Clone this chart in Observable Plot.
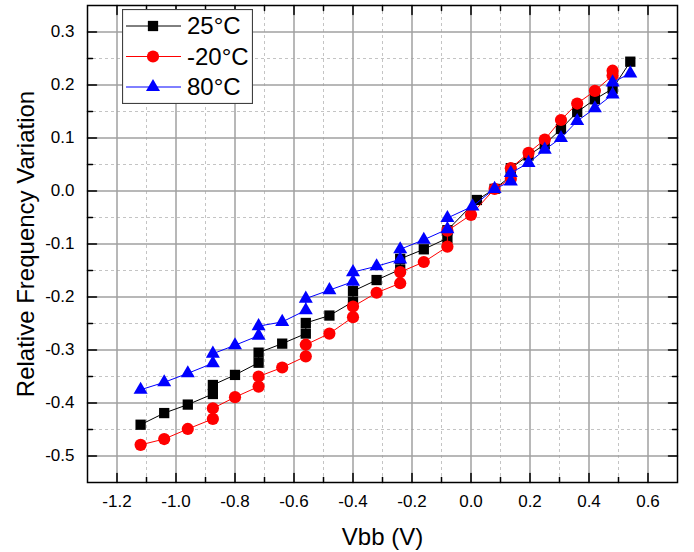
<!DOCTYPE html>
<html><head><meta charset="utf-8">
<script src="https://cdn.jsdelivr.net/npm/d3@7"></script>
<script src="https://cdn.jsdelivr.net/npm/@observablehq/plot@0.6"></script>
<style>
html,body{margin:0;padding:0;background:#fff;}
#chart{position:relative;width:694px;height:552px;font-family:"Liberation Sans",Arial,sans-serif;}
#legend{position:absolute;left:122px;top:9px;}
</style></head><body>
<div id="chart"></div>
<script>
// ---- axis ticks ----
const xTicks = [-1.2,-1.0,-0.8,-0.6,-0.4,-0.2,0.0,0.2,0.4,0.6];
const xMinor = [-1.1,-0.9,-0.7,-0.5,-0.3,-0.1,0.1,0.3,0.5];
const yTicks = [-0.5,-0.4,-0.3,-0.2,-0.1,0.0,0.1,0.2,0.3];
const yMinor = [-0.45,-0.35,-0.25,-0.15,-0.05,0.05,0.15,0.25];

// ---- series ----
const seriesNames = ["25°C","-20°C","80°C"];
const seriesColors = ["#000000","#ff0000","#0000ff"];
const seriesSymbols = ["square","circle","triangle"];

const vbb25 = [-1.12,-1.04,-0.96,-0.875,-0.875,-0.80,-0.72,-0.72,-0.64,-0.56,-0.56,-0.48,-0.40,-0.40,-0.32,-0.24,-0.24,-0.16,-0.08,-0.08,0.02,0.08,0.135,0.135,0.195,0.25,0.305,0.36,0.42,0.48,0.54];
const rfv25 = [-0.441,-0.419,-0.403,-0.383,-0.366,-0.347,-0.324,-0.305,-0.288,-0.269,-0.249,-0.235,-0.209,-0.189,-0.168,-0.148,-0.128,-0.110,-0.089,-0.074,-0.017,0.004,0.028,0.043,0.067,0.088,0.117,0.149,0.173,0.193,0.244];

const vbbM20 = [-1.12,-1.04,-0.96,-0.875,-0.875,-0.80,-0.72,-0.72,-0.64,-0.56,-0.56,-0.48,-0.40,-0.40,-0.32,-0.24,-0.24,-0.16,-0.08,-0.08,0.0,0.08,0.135,0.135,0.195,0.25,0.305,0.36,0.42,0.48,0.48];
const rfvM20 = [-0.479,-0.468,-0.449,-0.430,-0.410,-0.389,-0.369,-0.350,-0.333,-0.312,-0.290,-0.269,-0.238,-0.218,-0.192,-0.174,-0.153,-0.134,-0.105,-0.075,-0.045,0.004,0.023,0.043,0.072,0.097,0.134,0.165,0.189,0.218,0.227];

const vbb80 = [-1.12,-1.04,-0.96,-0.875,-0.875,-0.80,-0.72,-0.72,-0.64,-0.56,-0.56,-0.48,-0.40,-0.40,-0.32,-0.24,-0.24,-0.16,-0.08,-0.08,0.005,0.08,0.135,0.135,0.195,0.25,0.305,0.36,0.42,0.48,0.48,0.54];
const rfv80 = [-0.375,-0.361,-0.344,-0.325,-0.307,-0.291,-0.273,-0.255,-0.247,-0.225,-0.203,-0.187,-0.171,-0.153,-0.142,-0.129,-0.110,-0.092,-0.072,-0.051,-0.029,0.004,0.018,0.034,0.053,0.078,0.100,0.132,0.156,0.182,0.205,0.222];

const xs = [vbb25, vbbM20, vbb80];
const ys = [rfv25, rfvM20, rfv80];
const symR = [5.8, 6.1, 5.2];

const series = seriesNames.map((name, k) =>
  xs[k].map((x, i) => ({series: name, x, y: ys[k][i]})));

const fmt = d => d.toFixed(1);
const tickShape = {draw(ctx, l) { ctx.moveTo(0, 0); ctx.lineTo(0, -l); }};

const tickMarks = (vals, chan, anchor, rot, len) =>
  Plot.vector(vals, {[chan]: d => d, frameAnchor: anchor, rotate: rot, length: len,
    anchor: "start", shape: tickShape, stroke: "#000", strokeWidth: 1.5});

const marks = [
  Plot.ruleX(xMinor, {x: d => d, stroke: "#c4c4c4", strokeWidth: 1, strokeDasharray: "3,3"}),
  Plot.ruleY(yMinor, {y: d => d, stroke: "#c4c4c4", strokeWidth: 1, strokeDasharray: "3,3"}),
  Plot.ruleX(xTicks, {x: d => d, stroke: "#a0a0a0", strokeWidth: 1.5}),
  Plot.ruleY(yTicks, {y: d => d, stroke: "#a0a0a0", strokeWidth: 1.5}),
];
series.forEach((data, k) => {
  marks.push(Plot.line(data, {x: "x", y: "y", stroke: seriesColors[k], strokeWidth: 1}));
  marks.push(Plot.dot(data, {x: "x", y: "y", fill: seriesColors[k], stroke: "none",
    symbol: () => seriesSymbols[k], r: symR[k]}));
});
marks.push(
  tickMarks(xTicks, "x", "bottom", 0, 9),
  tickMarks(xMinor, "x", "bottom", 0, 5),
  tickMarks(xTicks, "x", "top", 180, 9),
  tickMarks(xMinor, "x", "top", 180, 5),
  tickMarks(yTicks, "y", "left", 90, 9),
  tickMarks(yMinor, "y", "left", 90, 5),
  tickMarks(yTicks, "y", "right", 270, 9),
  tickMarks(yMinor, "y", "right", 270, 5),
  Plot.frame({stroke: "#000", strokeWidth: 1.5}),
  Plot.axisX(xTicks, {anchor: "bottom", tickSize: 0, tickPadding: 12, tickFormat: fmt, fontSize: 17, label: null}),
  Plot.axisY(yTicks, {anchor: "left", tickSize: 0, tickPadding: 13, tickFormat: fmt, fontSize: 17, label: null}),
  Plot.text(["Vbb (V)"], {text: d => d, frameAnchor: "bottom", dy: 55, lineAnchor: "middle", textAnchor: "middle", fontSize: 24, fill: "#000"}),
  Plot.text(["Relative Frequency Variation"], {text: d => d, frameAnchor: "left", dx: -61, rotate: -90, textAnchor: "middle", lineAnchor: "middle", fontSize: 24, fill: "#000"})
);

const chart = Plot.plot({
  width: 694, height: 552,
  marginLeft: 87, marginRight: 17, marginTop: 5, marginBottom: 70,
  style: {fontFamily: '"Liberation Sans", Arial, sans-serif', color: "#000", background: "#fff"},
  x: {domain: [-1.3, 0.7]},
  y: {domain: [-0.55, 0.35]},
  symbol: {domain: seriesSymbols, range: seriesSymbols},
  marks
});
document.getElementById("chart").appendChild(chart);

// ---- legend ----
const lw = 131, lh = 95, rowH = 30.5;
const lg = d3.select("#chart").append("svg").attr("id", "legend")
  .attr("width", lw).attr("height", lh);
lg.append("rect").attr("x", 0.5).attr("y", 0.5).attr("width", lw - 1).attr("height", lh - 1)
  .attr("fill", "#fff").attr("stroke", "#404040").attr("stroke-width", 1.2);
const d3sym = {square: d3.symbolSquare, circle: d3.symbolCircle, triangle: d3.symbolTriangle};
seriesNames.forEach((name, k) => {
  const cy = 17 + k * rowH;
  lg.append("line").attr("x1", 4).attr("x2", 59).attr("y1", cy).attr("y2", cy)
    .attr("stroke", seriesColors[k]).attr("stroke-width", 1);
  lg.append("path").attr("transform", `translate(31,${cy})`)
    .attr("d", d3.symbol(d3sym[seriesSymbols[k]], Math.PI * symR[k] * symR[k])())
    .attr("fill", seriesColors[k]);
  lg.append("text").attr("x", 65).attr("y", cy).attr("dy", "0.35em")
    .attr("font-size", 24).attr("font-family", '"Liberation Sans", Arial, sans-serif')
    .attr("fill", "#000").text(name);
});
</script>
</body></html>
